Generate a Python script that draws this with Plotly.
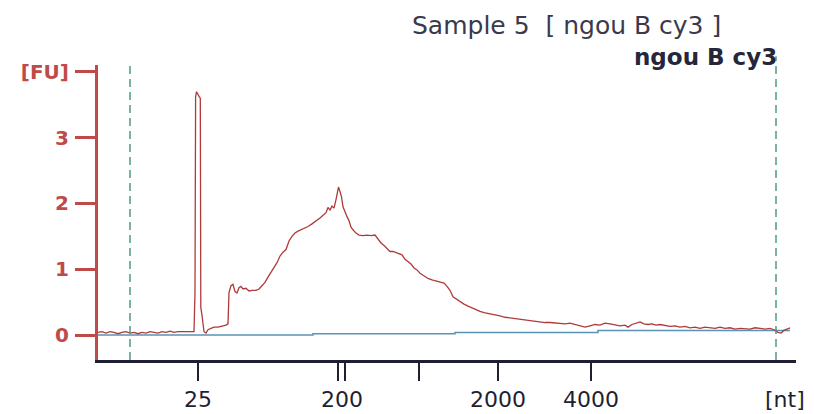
import plotly.graph_objects as go

# migration time (s) and fluorescence (FU) of sample trace
time_s = [9.8, 10.2, 10.6, 11.0, 11.4, 11.8, 12.2, 12.6, 13.0, 13.4, 13.8, 14.2, 14.6, 15.0, 15.4, 15.8,
          16.2, 16.6, 17.0, 17.4, 17.8, 18.2, 18.6, 19.0, 19.4,
          19.5, 19.56, 19.65, 19.75, 19.9, 20.03, 20.08, 20.2, 20.4, 20.6, 20.8, 21.1, 21.4, 21.8, 22.2, 22.6, 22.8,
          22.9, 23.1, 23.3, 23.5, 23.7, 23.9, 24.1, 24.3, 24.6, 24.9, 25.2, 25.6, 25.9, 26.2, 26.5, 26.8, 27.1,
          27.4, 27.7, 28.0, 28.3, 28.6, 28.9, 29.2, 29.5, 29.8, 30.1, 30.4, 30.8, 31.2, 31.6, 32.0, 32.3, 32.6,
          32.8, 33.0, 33.2, 33.4, 33.6, 33.75, 33.85, 34.0, 34.15, 34.3, 34.5, 34.7, 34.9, 35.1, 35.3, 35.6, 35.9,
          36.3, 36.7, 37.1, 37.5, 37.8, 38.1, 38.4, 38.7, 39.0, 39.3, 39.6, 39.9, 40.2, 40.5, 40.8, 41.1, 41.4,
          41.7, 42.0, 42.4, 42.8, 43.2, 43.6, 44.0, 44.4, 44.7, 45.0, 45.3, 45.6, 46.0, 46.4, 46.8, 47.2, 47.6,
          48.0, 48.4, 48.8, 49.2, 49.6, 50.0, 50.5, 51.0, 51.5, 52.0, 52.5, 53.0, 53.5, 54.0, 54.5, 55.0, 55.5,
          56.0, 56.5, 57.0, 57.5, 58.0, 58.5, 59.0, 59.5, 60.0, 60.5, 61.0, 61.5, 62.0, 62.5, 62.8, 63.2, 63.6,
          64.0, 64.4, 64.8, 65.2, 65.6, 66.0, 66.5, 67.0, 67.5, 68.0, 68.5, 69.0, 69.5, 70.0, 70.5, 71.0, 71.5,
          72.0, 72.5, 73.0, 73.5, 74.0, 74.5, 75.0, 75.5, 76.0, 76.5, 77.0, 77.4, 77.8, 78.1, 78.4, 78.8, 79.0]
fluorescence = [0.04, 0.05, 0.03, 0.05, 0.04, 0.02, 0.04, 0.05, 0.03, 0.04, 0.02, 0.04, 0.03, 0.05, 0.04, 0.03,
                0.05, 0.04, 0.06, 0.04, 0.05, 0.05, 0.04, 0.05, 0.05,
                0.65, 3.62, 3.70, 3.66, 3.63, 3.60, 0.42, 0.30, 0.05, 0.03, 0.08, 0.10, 0.12, 0.12, 0.13, 0.15, 0.17,
                0.65, 0.75, 0.77, 0.66, 0.64, 0.72, 0.74, 0.70, 0.71, 0.67, 0.68, 0.68, 0.70, 0.75, 0.80, 0.88, 0.95,
                1.01, 1.10, 1.20, 1.26, 1.30, 1.43, 1.50, 1.55, 1.58, 1.60, 1.63, 1.65, 1.69, 1.73, 1.78, 1.82, 1.86,
                1.94, 1.90, 1.96, 1.93, 2.06, 2.18, 2.25, 2.18, 2.10, 1.95, 1.86, 1.80, 1.74, 1.64, 1.60, 1.55, 1.52,
                1.51, 1.52, 1.51, 1.52, 1.46, 1.40, 1.36, 1.31, 1.27, 1.27, 1.25, 1.23, 1.22, 1.15, 1.12, 1.08, 1.02,
                0.99, 0.94, 0.90, 0.86, 0.84, 0.82, 0.80, 0.79, 0.74, 0.68, 0.58, 0.55, 0.50, 0.47, 0.44, 0.41, 0.39,
                0.36, 0.34, 0.33, 0.31, 0.30, 0.29, 0.27, 0.26, 0.25, 0.23, 0.22, 0.21, 0.21, 0.20, 0.19, 0.19, 0.18,
                0.17, 0.17, 0.18, 0.16, 0.14, 0.12, 0.14, 0.16, 0.15, 0.18, 0.17, 0.16, 0.14, 0.15, 0.12, 0.16, 0.18,
                0.20, 0.17, 0.16, 0.17, 0.15, 0.16, 0.14, 0.13, 0.14, 0.12, 0.13, 0.11, 0.12, 0.10, 0.12, 0.11, 0.10,
                0.12, 0.10, 0.11, 0.09, 0.10, 0.10, 0.09, 0.11, 0.10, 0.09, 0.10, 0.08, 0.04, 0.03, 0.07, 0.10, 0.11]

# baseline (steps)
baseline_t = [9.8, 31.3, 45.5, 59.8, 79.0]
baseline_fu = [0.0, 0.02, 0.04, 0.07, 0.07]

# ladder ticks (time positions) and size labels
tick_t = [19.8, 33.8, 34.5, 41.9, 49.8, 59.1]
tick_text = ["25", "", "", "", "2000", "4000"]
label_200_t = 34.15
unit_label_t = 78.5

# alignment markers
marker_t = [13.0, 77.6]

RED = "#bf4b48"
TRACE = "#b03a3a"
DARK = "#1f1f33"
GREEN = "#4f9a80"
FONT = "DejaVu Sans"

fig = go.Figure()
fig.add_trace(go.Scatter(x=baseline_t, y=baseline_fu, mode="lines", line=dict(color="#5a93b5", width=1.5, shape="hv"),
                         hoverinfo="skip", showlegend=False))
fig.add_trace(go.Scatter(x=time_s, y=fluorescence, mode="lines", line=dict(color=TRACE, width=1.3),
                         showlegend=False))

for t in marker_t:
    fig.add_shape(type="line", x0=t, x1=t, xref="x", yref="paper", y0=0, y1=1.0 if t < 50 else 1.03,
                  line=dict(color=GREEN, width=1.5, dash="8px,5px"))

fig.update_xaxes(range=[9.8, 79.6], showgrid=False, zeroline=False, showline=True, linecolor=DARK, linewidth=3,
                 ticks="outside", ticklen=18, tickwidth=2, tickcolor=DARK, tickvals=tick_t, ticktext=tick_text,
                 ticklabelstandoff=0, automargin=False, tickfont=dict(family=FONT, size=22, color=DARK))
fig.update_yaxes(range=[-0.38, 4.106], showgrid=False, zeroline=False, showline=True, linecolor=RED, linewidth=3,
                 ticks="outside", ticklen=20, tickwidth=2.5, tickcolor=RED, tickvals=[0, 1, 2, 3, 4],
                 ticktext=["<b>0</b>", "<b>1</b>", "<b>2</b>", "<b>3</b>", "<b>[FU]</b>"], ticklabelstandoff=2,
                 automargin=False, tickfont=dict(family=FONT, size=20, color=RED))

for t, txt in [(label_200_t, "200"), (unit_label_t, "[nt]")]:
    fig.add_annotation(x=t, xref="x", y=0, yref="paper", yanchor="middle", yshift=-39, text=txt, showarrow=False,
                       font=dict(family=FONT, size=22, color=DARK))

fig.add_annotation(x=0.447, xref="paper", xanchor="left", y=1, yref="paper", yanchor="middle", yshift=40,
                   text="Sample 5  [ ngou B cy3 ]", showarrow=False, font=dict(family=FONT, size=25, color="#3a3a4c"))
fig.add_annotation(x=0.975, xref="paper", xanchor="right", y=1, yref="paper", yanchor="middle", yshift=8,
                   text="<b>ngou B cy3</b>", showarrow=False, font=dict(family=FONT, size=23, color="#26263a"))

fig.update_layout(width=814, height=414, margin=dict(l=98, r=18, t=65, b=54), plot_bgcolor="white",
                  paper_bgcolor="white")
fig.write_html("out.html")
